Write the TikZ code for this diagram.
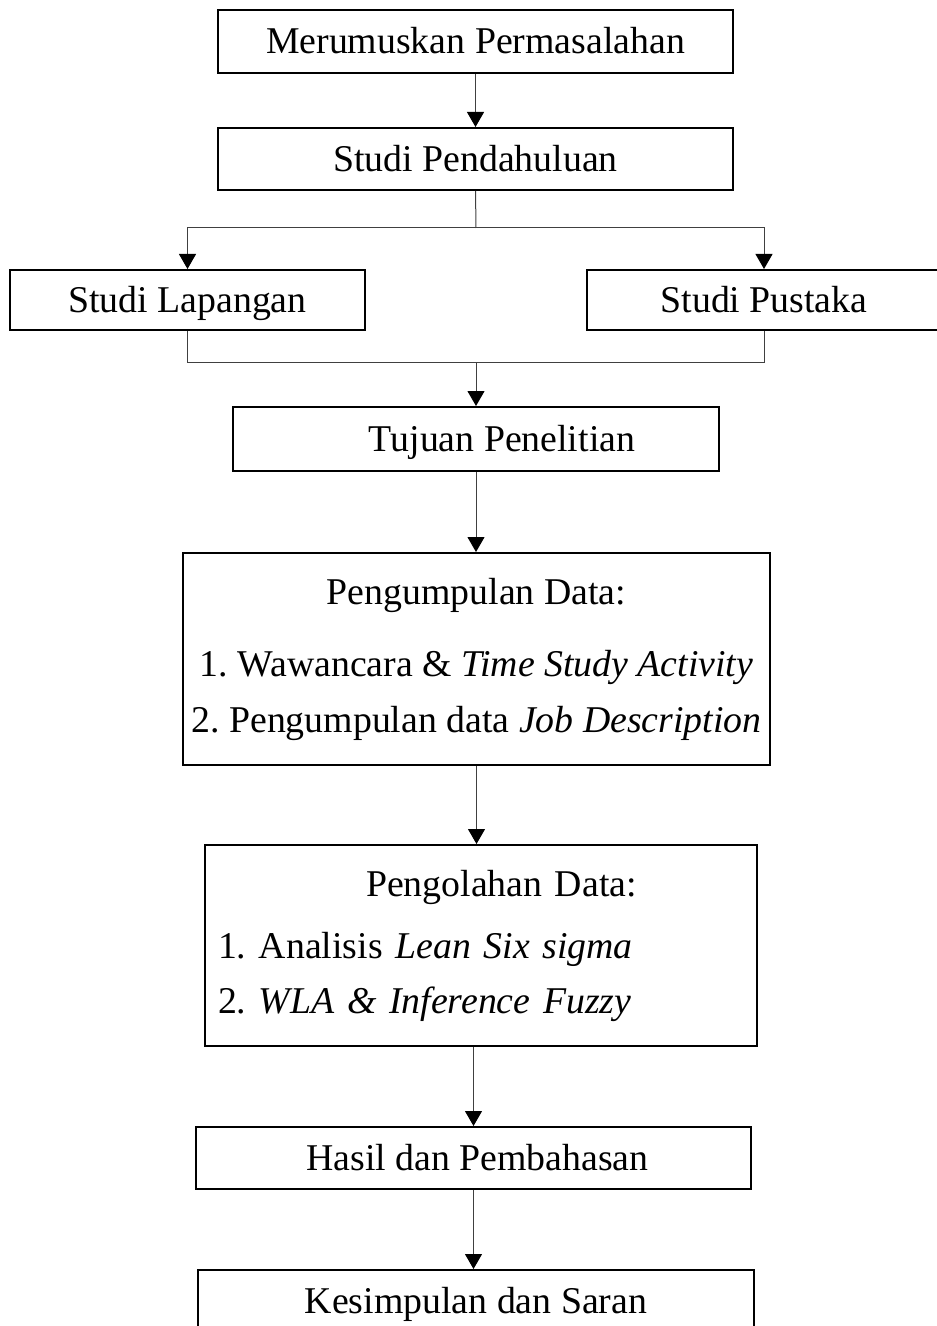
\documentclass[tikz,border=0pt]{standalone}
\usepackage{fontspec}
\setmainfont{Liberation Serif}
\usetikzlibrary{arrows.meta,calc}

\begin{document}
\frenchspacing
\begin{tikzpicture}[x=0.5pt, y=-0.5pt,
    every node/.style={font=\fontsize{18.9}{28}\selectfont},
    box/.style={draw, line width=1pt, inner sep=0pt, align=center},
    onebox/.style={box, text height=17pt, text depth=4.5pt}]
\useasboundingbox (0,0) rectangle (936,1326);

\node[onebox, minimum width=257.5pt, minimum height=31.5pt] (rumusan) at (475.5,41.5) {Merumuskan Permasalahan};
\node[onebox, minimum width=257.5pt, minimum height=31pt] (pendahuluan) at (475.5,159) {Studi Pendahuluan};
\node[onebox, minimum width=177.5pt, minimum height=30pt] (lapangan) at (187.5,300) {Studi Lapangan};
\node[onebox, minimum width=177pt, minimum height=30pt] (pustaka) at (764,300) {Studi Pustaka};
\node[onebox, minimum width=243pt, minimum height=32pt] (tujuan) at (476,439) {\hspace*{26pt}Tujuan Penelitian};
\node[box, minimum width=293.5pt, minimum height=106pt] (kumpul) at (476.5,659)
    {Pengumpulan Data:\\[8pt] 1. Wawancara \& \textit{Time Study Activity}\\ 2. Pengumpulan data \textit{Job Description}};
\node[box, minimum height=100.5pt, text width=263pt, inner xsep=6.5pt, align=left,
    font=\fontsize{18.9}{27.5}\selectfont] (olah) at (481,945.5)
    {\hspace*{74pt}Pengolahan Data:\\[3.5pt] 1. Analisis \textit{Lean Six sigma}\\ 2. \textit{WLA \& Inference Fuzzy}};
\node[onebox, minimum width=277.5pt, minimum height=31pt] (hasil) at (473.5,1158) {\hspace*{4pt}Hasil dan Pembahasan};
\node[onebox, minimum width=278pt, minimum height=31pt] (simpulan) at (476,1301) {Kesimpulan dan Saran};

\coordinate (cabang) at (476,228);
\coordinate (gabung) at (476,362);

\begin{scope}[every path/.style={draw, line width=0.5pt, black!75, -{Triangle[width=8.5pt,length=7.5pt,color=black]}}]
    \draw (rumusan.south) -- (pendahuluan.north);
    \draw[-] (pendahuluan.south) -- (cabang);
    \draw (cabang) -| (lapangan.north);
    \draw (cabang) -| (pustaka.north);
    \draw[-] (lapangan.south) |- (gabung);
    \draw[-] (pustaka.south) |- (gabung);
    \draw (gabung) -- (tujuan.north);
    \draw (tujuan.south) -- (tujuan.south |- kumpul.north);
    \draw (kumpul.south) -- (kumpul.south |- olah.north);
    \draw (hasil.north |- olah.south) -- (hasil.north);
    \draw (hasil.south) -- (hasil.south |- simpulan.north);
\end{scope}

\end{tikzpicture}
\end{document}
